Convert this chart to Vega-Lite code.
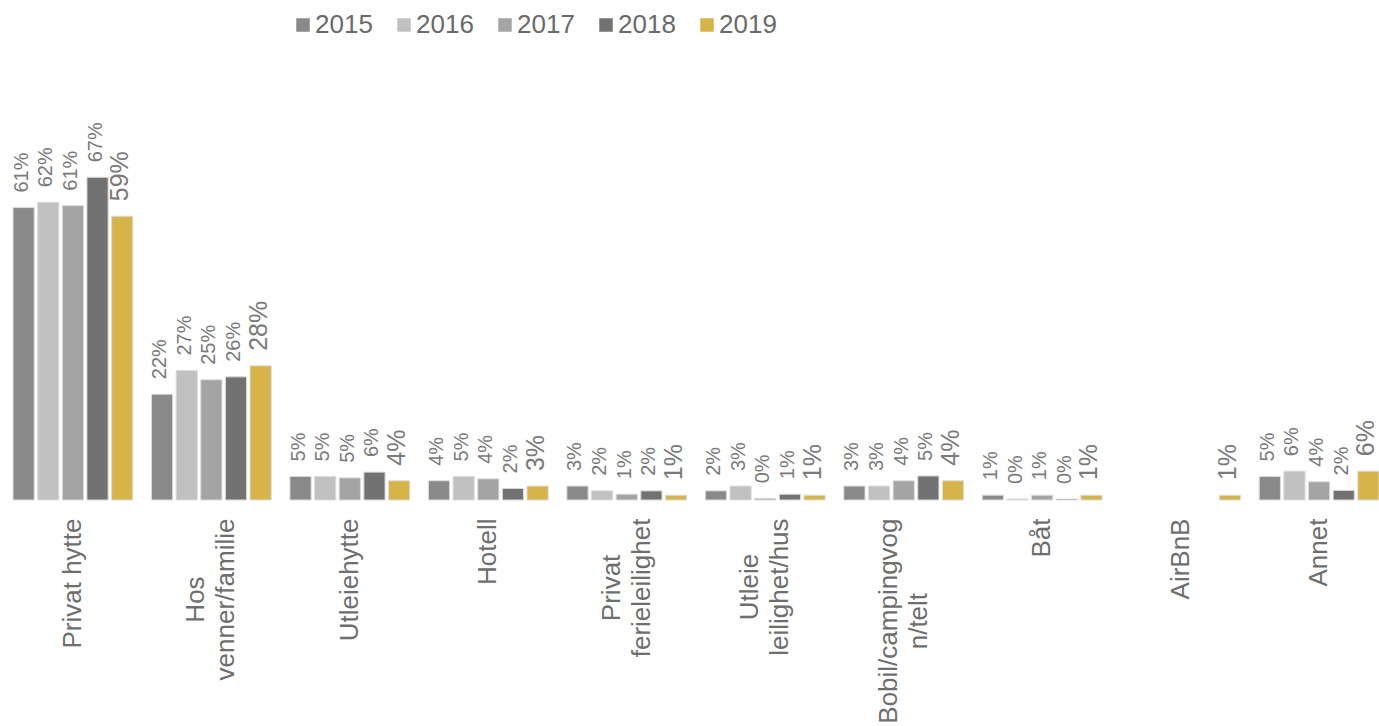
{
  "$schema": "https://vega.github.io/schema/vega-lite/v6.json",
  "width": 1366,
  "height": 481,
  "autosize": {"type": "none"},
  "padding": {"left": 13, "top": 19, "right": 0, "bottom": 226},
  "config": {"view": {"stroke": null}, "font": "Liberation Sans"},
  "data": {
    "values": [
      {"cat": "Privat hytte", "year": "2015", "v": 0.608},
      {"cat": "Privat hytte", "year": "2016", "v": 0.619},
      {"cat": "Privat hytte", "year": "2017", "v": 0.612},
      {"cat": "Privat hytte", "year": "2018", "v": 0.671},
      {"cat": "Privat hytte", "year": "2019", "v": 0.590},
      {"cat": "Hos venner/familie", "year": "2015", "v": 0.220},
      {"cat": "Hos venner/familie", "year": "2016", "v": 0.269},
      {"cat": "Hos venner/familie", "year": "2017", "v": 0.250},
      {"cat": "Hos venner/familie", "year": "2018", "v": 0.256},
      {"cat": "Hos venner/familie", "year": "2019", "v": 0.279},
      {"cat": "Utleiehytte", "year": "2015", "v": 0.049},
      {"cat": "Utleiehytte", "year": "2016", "v": 0.049},
      {"cat": "Utleiehytte", "year": "2017", "v": 0.046},
      {"cat": "Utleiehytte", "year": "2018", "v": 0.058},
      {"cat": "Utleiehytte", "year": "2019", "v": 0.040},
      {"cat": "Hotell", "year": "2015", "v": 0.040},
      {"cat": "Hotell", "year": "2016", "v": 0.049},
      {"cat": "Hotell", "year": "2017", "v": 0.044},
      {"cat": "Hotell", "year": "2018", "v": 0.024},
      {"cat": "Hotell", "year": "2019", "v": 0.029},
      {"cat": "Privat ferieleilighet", "year": "2015", "v": 0.029},
      {"cat": "Privat ferieleilighet", "year": "2016", "v": 0.019},
      {"cat": "Privat ferieleilighet", "year": "2017", "v": 0.012},
      {"cat": "Privat ferieleilighet", "year": "2018", "v": 0.019},
      {"cat": "Privat ferieleilighet", "year": "2019", "v": 0.010},
      {"cat": "Utleie leilighet/hus", "year": "2015", "v": 0.019},
      {"cat": "Utleie leilighet/hus", "year": "2016", "v": 0.029},
      {"cat": "Utleie leilighet/hus", "year": "2017", "v": 0.0035},
      {"cat": "Utleie leilighet/hus", "year": "2018", "v": 0.012},
      {"cat": "Utleie leilighet/hus", "year": "2019", "v": 0.010},
      {"cat": "Bobil/campingvogn/telt", "year": "2015", "v": 0.029},
      {"cat": "Bobil/campingvogn/telt", "year": "2016", "v": 0.029},
      {"cat": "Bobil/campingvogn/telt", "year": "2017", "v": 0.040},
      {"cat": "Bobil/campingvogn/telt", "year": "2018", "v": 0.050},
      {"cat": "Bobil/campingvogn/telt", "year": "2019", "v": 0.040},
      {"cat": "Båt", "year": "2015", "v": 0.010},
      {"cat": "Båt", "year": "2016", "v": 0.002},
      {"cat": "Båt", "year": "2017", "v": 0.010},
      {"cat": "Båt", "year": "2018", "v": 0.002},
      {"cat": "Båt", "year": "2019", "v": 0.010},
      {"cat": "AirBnB", "year": "2019", "v": 0.010},
      {"cat": "Annet", "year": "2015", "v": 0.049},
      {"cat": "Annet", "year": "2016", "v": 0.060},
      {"cat": "Annet", "year": "2017", "v": 0.038},
      {"cat": "Annet", "year": "2018", "v": 0.020},
      {"cat": "Annet", "year": "2019", "v": 0.060}
    ]
  },
  "encoding": {
    "x": {
      "field": "cat",
      "type": "nominal",
      "sort": ["Privat hytte", "Hos venner/familie", "Utleiehytte", "Hotell", "Privat ferieleilighet", "Utleie leilighet/hus", "Bobil/campingvogn/telt", "Båt", "AirBnB", "Annet"],
      "scale": {"paddingInner": 0.135, "paddingOuter": 0},
      "axis": {
        "title": null,
        "ticks": false,
        "tickSize": 0,
        "domain": false,
        "labelAngle": -90,
        "labelAlign": "center",
        "labelBaseline": "middle",
        "labelPadding": {
          "condition": [
            {"test": "datum.label == 'Privat hytte'", "value": 83},
            {"test": "datum.label == 'Hos venner/familie'", "value": 99},
            {"test": "datum.label == 'Utleiehytte'", "value": 79.4},
            {"test": "datum.label == 'Hotell'", "value": 51.2},
            {"test": "datum.label == 'Privat ferieleilighet'", "value": 87.4},
            {"test": "datum.label == 'Utleie leilighet/hus'", "value": 86.6},
            {"test": "datum.label == 'Bobil/campingvogn/telt'", "value": 120.6},
            {"test": "datum.label == 'Båt'", "value": 37.5},
            {"test": "datum.label == 'AirBnB'", "value": 58.5}
          ],
          "value": 52
        },
        "labelFontSize": 26,
        "labelColor": "#6e6e6e",
        "labelLineHeight": 30,
        "labelLimit": 400,
        "labelOverlap": false,
        "labelOffset": {"condition": {"test": "datum.label == 'Hos venner/familie' || datum.label == 'Privat ferieleilighet' || datum.label == 'Utleie leilighet/hus' || datum.label == 'Bobil/campingvogn/telt'", "value": -15}, "value": 0},
        "labelExpr": "datum.label == 'Hos venner/familie' ? ['Hos', 'venner/familie'] : datum.label == 'Privat ferieleilighet' ? ['Privat', 'ferieleilighet'] : datum.label == 'Utleie leilighet/hus' ? ['Utleie', 'leilighet/hus'] : datum.label == 'Bobil/campingvogn/telt' ? ['Bobil/campingvog', 'n/telt'] : datum.label"
      }
    },
    "xOffset": {
      "field": "year",
      "type": "nominal",
      "sort": ["2015", "2016", "2017", "2018", "2019"],
      "scale": {"paddingInner": 0.14, "paddingOuter": 0}
    },
    "y": {
      "field": "v",
      "type": "quantitative",
      "scale": {"domain": [0, 1], "nice": false, "zero": true},
      "axis": null
    }
  },
  "layer": [
    {
      "mark": {"type": "bar", "stroke": "#dcdcdc", "strokeWidth": 1},
      "encoding": {
        "color": {
          "field": "year",
          "type": "nominal",
          "scale": {
            "domain": ["2015", "2016", "2017", "2018", "2019"],
            "range": ["#898989", "#c1c1c1", "#a4a4a4", "#727272", "#d6b447"]
          },
          "legend": {
            "title": null,
            "orient": "none",
            "legendX": 277,
            "legendY": -7,
            "direction": "horizontal",
            "symbolType": "square",
            "symbolSize": 182,
            "symbolStrokeWidth": 0,
            "labelFontSize": 26,
            "labelColor": "#6a6a6a",
            "labelOffset": -1,
            "columnPadding": 18
          }
        }
      }
    },
    {
      "mark": {"type": "text", "angle": 270, "align": "left", "baseline": "middle", "dx": 15, "dy": -2, "color": "#7a7a7a"},
      "encoding": {
        "text": {"field": "v", "type": "quantitative", "format": ".0%"},
        "size": {"condition": {"test": "datum.year == '2019'", "value": 25}, "value": 20}
      }
    }
  ]
}
